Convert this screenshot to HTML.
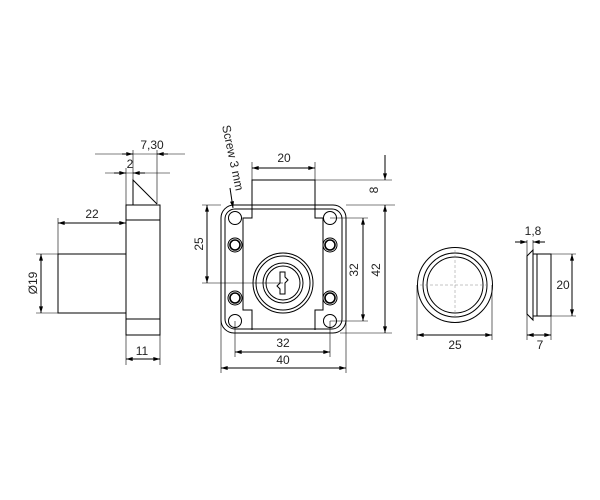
<!DOCTYPE html>
<html><head><style>
html,body{margin:0;padding:0;background:#fff;}
svg{display:block;}
text{font-family:"Liberation Sans",sans-serif;font-size:12px;fill:#222;}
</style></head><body>
<svg width="600" height="500" viewBox="0 0 600 500" xmlns="http://www.w3.org/2000/svg">
<defs>
<marker id="a" viewBox="0 0 10 6" refX="10" refY="3" markerWidth="10" markerHeight="4" orient="auto-start-reverse" markerUnits="userSpaceOnUse"><path d="M0,0L10,3L0,6z" fill="#000"/></marker>
</defs>
<g fill="none" stroke="#000" stroke-width="1">
<rect x="126" y="205" width="34" height="130"/>
<line x1="126" y1="220" x2="160" y2="220"/>
<line x1="126" y1="319" x2="160" y2="319"/>
<path d="M133,205V180L157,204"/>
<rect x="58" y="254" width="68" height="59"/>
<g stroke-width="0.6">
<line x1="126" y1="205" x2="126" y2="168"/>
<line x1="133" y1="180" x2="133" y2="150"/>
<line x1="157" y1="204" x2="157" y2="150"/>
<line x1="95" y1="154" x2="185" y2="154"/>
<line x1="105" y1="173" x2="170" y2="173"/>
<line x1="58" y1="254" x2="58" y2="218"/>
<line x1="58" y1="254" x2="36" y2="254"/>
<line x1="58" y1="313" x2="36" y2="313"/>
<line x1="126" y1="335" x2="126" y2="365"/>
<line x1="160" y1="335" x2="160" y2="365"/>
</g>
<line x1="122" y1="154" x2="133" y2="154" marker-end="url(#a)"/>
<line x1="168" y1="154" x2="157" y2="154" marker-end="url(#a)"/>
<line x1="114" y1="173" x2="126" y2="173" marker-end="url(#a)"/>
<line x1="145" y1="173" x2="133" y2="173" marker-end="url(#a)"/>
<line x1="58" y1="223" x2="126" y2="223" marker-start="url(#a)" marker-end="url(#a)"/>
<line x1="41" y1="254" x2="41" y2="313" marker-start="url(#a)" marker-end="url(#a)"/>
<line x1="126" y1="359" x2="160" y2="359" marker-start="url(#a)" marker-end="url(#a)"/>

<path d="M252,205V180H315V205"/>
<rect x="221" y="205" width="125" height="128" rx="13"/>
<rect x="225" y="209" width="117" height="120" rx="10"/>
<path d="M252,205V218H243V310H252V330M315,205V218H323V310H315V330"/>
<circle cx="235" cy="218" r="6.5"/><circle cx="330" cy="218" r="6.5"/>
<circle cx="235" cy="321" r="6.5"/><circle cx="330" cy="321" r="6.5"/>
<g stroke-width="1.6"><circle cx="235" cy="245" r="5"/><circle cx="330" cy="245" r="5"/>
<circle cx="235" cy="298" r="5"/><circle cx="330" cy="298" r="5"/></g>
<circle cx="235" cy="245" r="7"/><circle cx="330" cy="245" r="7"/>
<circle cx="235" cy="298" r="7"/><circle cx="330" cy="298" r="7"/>
<circle cx="283" cy="283" r="30"/><circle cx="283" cy="283" r="27"/><circle cx="283" cy="283" r="20"/><circle cx="283" cy="283" r="17"/>
<path d="M280,272h5v5l3,3l-3,3v11h-5v-5l-3,-3l3,-3z"/>
<g stroke-width="0.6">
<line x1="252" y1="180" x2="252" y2="162"/>
<line x1="315" y1="180" x2="315" y2="162"/>
<line x1="315" y1="180" x2="392" y2="180"/>
<line x1="346" y1="205" x2="395" y2="205"/>
<line x1="340" y1="333" x2="392" y2="333"/>
<line x1="330" y1="218" x2="368" y2="218"/>
<line x1="330" y1="321" x2="368" y2="321"/>
<line x1="221" y1="205" x2="202" y2="205"/>
<line x1="283" y1="283" x2="202" y2="283"/>
<line x1="235" y1="321" x2="235" y2="357"/>
<line x1="330" y1="321" x2="330" y2="357"/>
<line x1="221" y1="320" x2="221" y2="373"/>
<line x1="346" y1="320" x2="346" y2="373"/>
</g>
<line x1="252" y1="168" x2="315" y2="168" marker-start="url(#a)" marker-end="url(#a)"/>
<line x1="385" y1="155" x2="385" y2="180" marker-end="url(#a)"/>
<line x1="385" y1="205" x2="385" y2="333" marker-start="url(#a)" marker-end="url(#a)"/>
<line x1="363" y1="218" x2="363" y2="321" marker-start="url(#a)" marker-end="url(#a)"/>
<line x1="207" y1="205" x2="207" y2="283" marker-start="url(#a)" marker-end="url(#a)"/>
<line x1="235" y1="352" x2="330" y2="352" marker-start="url(#a)" marker-end="url(#a)"/>
<line x1="221" y1="368" x2="346" y2="368" marker-start="url(#a)" marker-end="url(#a)"/>
<line x1="230" y1="188" x2="233" y2="208" marker-end="url(#a)"/>

<circle cx="455" cy="285" r="37.5"/><circle cx="455" cy="285" r="32"/><circle cx="455" cy="285" r="28"/>
<g stroke-width="0.5" stroke-dasharray="3,2" stroke="#888"><line x1="420" y1="285" x2="490" y2="285"/><line x1="455" y1="250" x2="455" y2="320"/></g>
<g stroke-width="0.6">
<line x1="417" y1="285" x2="417" y2="340"/><line x1="492" y1="285" x2="492" y2="340"/>
<line x1="527" y1="240" x2="527" y2="340"/><line x1="533" y1="240" x2="533" y2="252"/>
<line x1="551" y1="316" x2="551" y2="340"/>
<line x1="551" y1="254" x2="576" y2="254"/><line x1="551" y1="316" x2="576" y2="316"/>
</g>
<line x1="417" y1="335" x2="492" y2="335" marker-start="url(#a)" marker-end="url(#a)"/>
<path d="M527,256L533,250V320L527,314Z"/>
<rect x="533" y="254" width="18" height="62"/>
<line x1="537" y1="254" x2="537" y2="316"/>
<line x1="515" y1="242" x2="527" y2="242" marker-end="url(#a)"/>
<line x1="545" y1="242" x2="533" y2="242" marker-end="url(#a)"/>
<line x1="527" y1="335" x2="551" y2="335" marker-start="url(#a)" marker-end="url(#a)"/>
<line x1="572" y1="254" x2="572" y2="316" marker-start="url(#a)" marker-end="url(#a)"/>
</g>
<text x="152" y="149" text-anchor="middle">7,30</text>
<text x="130" y="168" text-anchor="middle">2</text>
<text x="92" y="218" text-anchor="middle">22</text>
<text transform="translate(37,283) rotate(-90)" text-anchor="middle">Ø19</text>
<text x="142" y="355" text-anchor="middle">11</text>
<text x="284" y="162" text-anchor="middle">20</text>
<text transform="translate(378,190) rotate(-90)" text-anchor="middle">8</text>
<text transform="translate(380,270) rotate(-90)" text-anchor="middle">42</text>
<text transform="translate(358,270) rotate(-90)" text-anchor="middle">32</text>
<text transform="translate(203,244) rotate(-90)" text-anchor="middle">25</text>
<text x="283" y="347" text-anchor="middle">32</text>
<text x="283" y="364" text-anchor="middle">40</text>
<text transform="translate(222,126) rotate(78)">Screw 3 mm</text>
<text x="455" y="349" text-anchor="middle">25</text>
<text x="533" y="235" text-anchor="middle">1,8</text>
<text x="563" y="289" text-anchor="middle">20</text>
<text x="540" y="349" text-anchor="middle">7</text>
</svg>
</body></html>
